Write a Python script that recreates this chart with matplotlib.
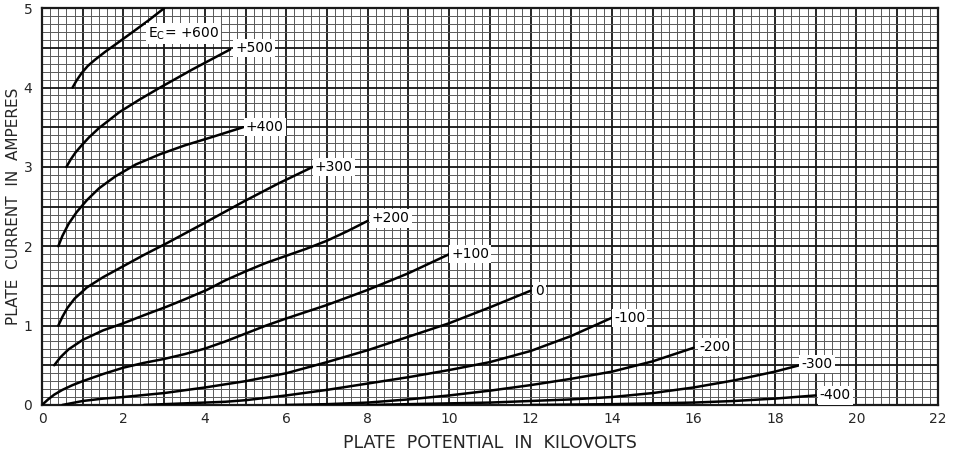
import matplotlib.pyplot as plt
from matplotlib.ticker import MultipleLocator

# Plate characteristic curves (kV, A)
grid_volts = ['+600', '+500', '+400', '+300', '+200', '+100', '0', '-100', '-200', '-300', '-400']

kv_600 = [0.75, 0.85, 0.97, 1.12, 1.3, 1.55, 1.85, 2.2, 2.6, 3.0]
amp_600 = [4.0, 4.09, 4.18, 4.27, 4.35, 4.45, 4.56, 4.69, 4.84, 5.0]

kv_500 = [0.6, 0.7, 0.82, 0.97, 1.15, 1.4, 1.9, 2.4, 2.9, 3.7, 4.62]
amp_500 = [3.0, 3.09, 3.18, 3.27, 3.37, 3.49, 3.69, 3.85, 4.0, 4.23, 4.48]

kv_400 = [0.4, 0.5, 0.65, 0.85, 1.1, 1.4, 1.8, 2.3, 2.9, 3.5, 4.2, 4.94]
amp_400 = [2.0, 2.13, 2.28, 2.43, 2.58, 2.73, 2.88, 3.03, 3.16, 3.27, 3.38, 3.5]

kv_300 = [0.4, 0.5, 0.62, 0.8, 1.1, 1.5, 2.0, 2.5, 3.07, 4.05, 4.94, 5.8, 6.65]
amp_300 = [1.0, 1.11, 1.22, 1.34, 1.48, 1.61, 1.75, 1.89, 2.04, 2.31, 2.56, 2.79, 3.0]

kv_200 = [0.3, 0.45, 0.65, 1.0, 1.5, 2.0, 2.5, 3.07, 3.5, 4.05, 4.5, 5.03, 5.5, 6.0, 6.5, 7.0, 7.5, 8.0]
amp_200 = [0.5, 0.6, 0.7, 0.82, 0.94, 1.03, 1.13, 1.24, 1.33, 1.45, 1.57, 1.69, 1.79, 1.88, 1.97, 2.07, 2.19, 2.32]

kv_100 = [0.0, 0.15, 0.3, 0.5, 0.75, 1.0, 1.5, 2.0, 2.5, 3.0, 3.5, 4.0, 4.5, 5.0, 5.5, 6.0, 7.0, 8.0, 9.0, 10.0]
amp_100 = [0.0, 0.07, 0.13, 0.19, 0.25, 0.3, 0.39, 0.47, 0.53, 0.58, 0.64, 0.71, 0.8, 0.9, 1.0, 1.09, 1.26, 1.45, 1.66, 1.9]

kv_0 = [0.5, 1.0, 1.5, 2.0, 3.0, 4.0, 5.0, 6.0, 7.0, 8.0, 9.0, 10.0, 11.0, 12.0]
amp_0 = [0.0, 0.05, 0.08, 0.1, 0.15, 0.22, 0.3, 0.4, 0.54, 0.69, 0.86, 1.03, 1.23, 1.44]

kv_m100 = [2.5, 3.5, 4.5, 5.0, 6.0, 7.0, 8.0, 9.0, 10.0, 11.0, 12.0, 13.0, 14.0]
amp_m100 = [0.0, 0.02, 0.04, 0.06, 0.12, 0.19, 0.27, 0.35, 0.44, 0.54, 0.68, 0.87, 1.1]

kv_m200 = [6.0, 7.0, 8.0, 9.0, 10.0, 11.0, 12.0, 13.0, 14.0, 15.0, 16.0]
amp_m200 = [0.0, 0.01, 0.03, 0.07, 0.12, 0.18, 0.25, 0.33, 0.42, 0.55, 0.72]

kv_m300 = [8.0, 10.0, 11.0, 12.0, 13.0, 14.0, 15.0, 16.0, 17.0, 18.0, 18.6]
amp_m300 = [0.0, 0.02, 0.03, 0.05, 0.07, 0.1, 0.15, 0.22, 0.31, 0.42, 0.5]

kv_m400 = [12.0, 14.0, 15.0, 16.0, 17.0, 18.0, 19.0]
amp_m400 = [0.0, 0.01, 0.02, 0.03, 0.05, 0.08, 0.12]

curves = [(kv_600, amp_600), (kv_500, amp_500), (kv_400, amp_400), (kv_300, amp_300),
          (kv_200, amp_200), (kv_100, amp_100), (kv_0, amp_0), (kv_m100, amp_m100),
          (kv_m200, amp_m200), (kv_m300, amp_m300), (kv_m400, amp_m400)]

# where each curve label sits (kV, A)
label_x = [2.6, 4.75, 5.0, 6.7, 8.1, 10.05, 12.1, 14.05, 16.15, 18.65, 19.1]
label_y = [4.68, 4.5, 3.5, 3.0, 2.35, 1.9, 1.43, 1.1, 0.73, 0.52, 0.12]

fig = plt.figure(figsize=(9.55, 4.55), dpi=100)
ax = fig.add_axes([0.044, 0.11, 0.938, 0.872])

ax.set_xlim(0, 22)
ax.set_ylim(0, 5)
ax.xaxis.set_major_locator(MultipleLocator(1))
ax.xaxis.set_minor_locator(MultipleLocator(0.2))
ax.yaxis.set_major_locator(MultipleLocator(0.5))
ax.yaxis.set_minor_locator(MultipleLocator(0.1))
ax.grid(which='minor', color='0.35', linewidth=0.7)
ax.grid(which='major', color='0.08', linewidth=1.3)
ax.set_axisbelow(True)

# only label the even kV and whole amps
ax.set_xticklabels(['' if v % 2 else str(int(v)) for v in ax.get_xticks()])
ax.set_yticklabels([str(int(v)) if v == int(v) else '' for v in ax.get_yticks()])
ax.tick_params(which='both', length=0, labelsize=10, colors='0.15')
ax.tick_params(axis='x', pad=5)
ax.tick_params(axis='y', pad=7)
for s in ax.spines.values():
    s.set_linewidth(1.6)
    s.set_color('0.1')

for (xs, ys) in curves:
    ax.plot(xs, ys, color='black', linewidth=1.8, solid_capstyle='round',
            solid_joinstyle='round', zorder=3)

for i, name in enumerate(grid_volts):
    txt = name
    if i == 0:
        txt = r'E$_{\rm C}$= ' + name
    ax.text(label_x[i], label_y[i], txt, fontsize=10, ha='left', va='center', zorder=4,
            bbox=dict(facecolor='white', edgecolor='none', pad=1.5))

ax.set_xlabel('PLATE  POTENTIAL  IN  KILOVOLTS', fontsize=12.5, color='0.15', labelpad=6)
ax.set_ylabel('PLATE  CURRENT  IN  AMPERES', fontsize=11, color='0.15', labelpad=2)

fig.savefig('out.png', dpi=100)
